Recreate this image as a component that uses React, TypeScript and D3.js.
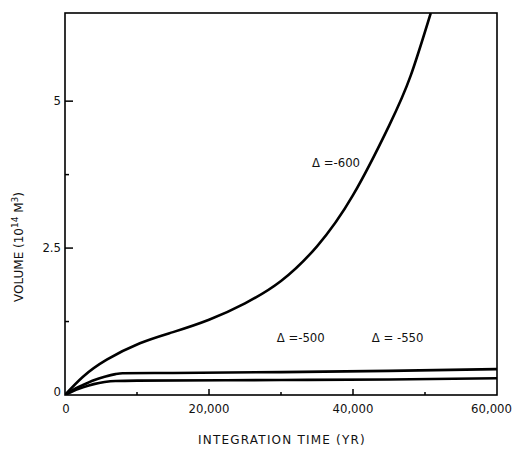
import React from "react";
import * as d3 from "d3";

const xTicksMajor = [0, 20000, 40000, 60000];
const xTickLabels = ["0", "20,000", "40,000", "60,000"];
const xTicksMinor = [10000, 30000, 50000];
const yTicksMajor = [0, 2.5, 5];
const yTickLabels = ["0", "2.5", "5"];
const yTicksMinor = [1.25, 3.75];

const curve600 = [
  [0, 0], [2500, 0.31], [5800, 0.6], [10400, 0.88], [15000, 1.07], [20000, 1.28],
  [25000, 1.56], [30000, 1.94], [35000, 2.53], [40000, 3.4], [45000, 4.58],
  [48000, 5.43], [50800, 6.5],
];
const curve550 = [
  [0, 0], [1000, 0.08], [2500, 0.17], [4000, 0.25], [5500, 0.31], [7000, 0.355],
  [8000, 0.37], [15000, 0.375], [30000, 0.39], [45000, 0.41], [60000, 0.44],
];
const curve500 = [
  [0, 0], [1000, 0.06], [2500, 0.13], [4000, 0.185], [5500, 0.22], [7000, 0.238],
  [10000, 0.245], [30000, 0.255], [45000, 0.265], [60000, 0.285],
];
const labels = [
  { text: "\u0394 =-600", x: 34300, y: 3.88 },
  { text: "\u0394 =-500", x: 29400, y: 0.9 },
  { text: "\u0394 = -550", x: 42600, y: 0.9 },
];

export default function App() {
  const W = 513, H = 453;
  const x = d3.scaleLinear().domain([0, 60000]).range([65, 497]);
  const y = d3.scaleLinear().domain([0, 6.5]).range([395, 13]);
  const smooth = d3.line<number[]>().x((d) => x(d[0])).y((d) => y(d[1])).curve(d3.curveNatural);
  const line = d3.line<number[]>().x((d) => x(d[0])).y((d) => y(d[1])).curve(d3.curveMonotoneX);
  const font = "'DejaVu Sans', sans-serif";
  const narrow = "'Liberation Sans Narrow', 'DejaVu Sans Condensed', sans-serif";
  return (
    <svg width={W} height={H} style={{ position: "absolute", left: 0, top: 0 }}>
      <rect width={W} height={H} fill="#fff" />
      <defs>
        <clipPath id="pa">
          <rect x={65} y={13} width={432} height={382} />
        </clipPath>
      </defs>
      <g clipPath="url(#pa)" fill="none" stroke="#000" strokeWidth={2.6} strokeLinejoin="round">
        <path d={smooth(curve600) || ""} />
        <path d={line(curve550) || ""} />
        <path d={line(curve500) || ""} />
      </g>
      <rect x={65} y={13} width={432} height={382} fill="none" stroke="#000" strokeWidth={1.6} />
      {xTicksMajor.slice(1, 3).map((t) => (
        <line key={"xm" + t} x1={x(t)} x2={x(t)} y1={395} y2={389} stroke="#000" strokeWidth={1.5} />
      ))}
      {xTicksMinor.map((t) => (
        <line key={"xn" + t} x1={x(t)} x2={x(t)} y1={395} y2={392} stroke="#000" strokeWidth={1.5} />
      ))}
      {yTicksMajor.slice(1).map((t) => (
        <line key={"ym" + t} x1={65} x2={73} y1={y(t)} y2={y(t)} stroke="#000" strokeWidth={1.5} />
      ))}
      {yTicksMinor.map((t) => (
        <line key={"yn" + t} x1={65} x2={69} y1={y(t)} y2={y(t)} stroke="#000" strokeWidth={1.5} />
      ))}
      <g fontFamily={narrow} fontSize={13} fill="#111">
        {xTicksMajor.map((t, i) => (
          <text key={"xl" + t} x={i === 3 ? 512 : x(t) + (i === 0 ? 1 : 0)} y={413}
            textAnchor={i === 3 ? "end" : "middle"}>
            {xTickLabels[i]}
          </text>
        ))}
        {yTicksMajor.map((t, i) => (
          <text key={"yl" + t} x={61} y={y(t) + (i === 0 ? 1 : 4)} textAnchor="end">
            {yTickLabels[i]}
          </text>
        ))}
        {labels.map((l) => (
          <text key={l.text} x={x(l.x)} y={y(l.y)}>{l.text}</text>
        ))}
      </g>
      <g fontFamily={font} fontSize={12} fill="#111">
        <text x={282} y={444} textAnchor="middle" letterSpacing={1.2}>INTEGRATION TIME (YR)</text>
        <text transform="translate(23,247) rotate(-90)" textAnchor="middle">
          VOLUME (10<tspan dy={-5} fontSize={9}>14</tspan><tspan dy={5}> M</tspan><tspan dy={-5} fontSize={9}>3</tspan><tspan dy={5}>)</tspan>
        </text>
      </g>
    </svg>
  );
}
